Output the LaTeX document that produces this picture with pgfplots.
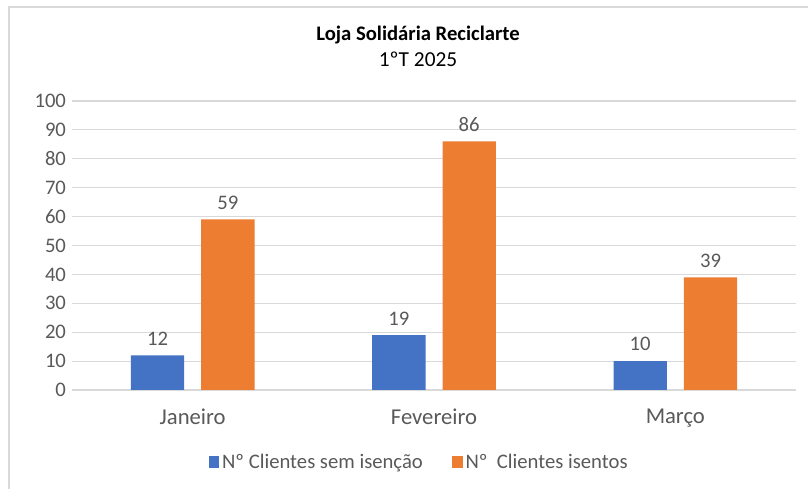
\documentclass[border=0pt]{standalone}
\usepackage{pgfplots}
\pgfplotsset{compat=1.18}
\usepackage{fontspec}
\setmainfont{Carlito}
\definecolor{cblue}{HTML}{4472C4}
\definecolor{corange}{HTML}{ED7D31}
\definecolor{txt}{HTML}{595959}
\definecolor{gridc}{HTML}{D9D9D9}
\begin{document}
\begin{tikzpicture}
% page = 808 x 489 px at 0.75pt/px; axis SW corner at px (72,390)
\path[use as bounding box] (-54pt,-74.25pt) rectangle (552pt,292.5pt);
\draw[gridc, line width=1pt] (-47.25pt,-74.25pt) -- (-47.25pt,287.25pt) -- (552pt,287.25pt);
\begin{axis}[
  at={(0,0)}, anchor=south west,
  scale only axis,
  width=543pt, height=216.75pt,
  ybar=12.75pt, bar width=40pt,
  xmin=-0.5, xmax=2.5,
  ymin=0, ymax=100, ytick distance=10,
  xtick=data,
  xticklabels={Janeiro, Fevereiro, Março},
  axis x line*=bottom,
  axis y line*=left,
  y axis line style={draw=none},
  x axis line style={draw=gridc, line width=0.8pt, -},
  xtick style={draw=none}, ytick style={draw=none},
  major tick length=0pt,
  xmajorgrids=false, ymajorgrids=true,
  grid style={draw=gridc, line width=0.8pt},
  tick label style={text=txt},
  yticklabel style={font=\fontsize{15.5}{17}\selectfont, xshift=-1pt},
  xticklabel style={font=\fontsize{17}{19}\selectfont, yshift=-11pt},
  /pgf/number format/assume math mode=true,
  nodes near coords,
  every node near coord/.append style={font=\fontsize{15.5}{17}\selectfont, text=txt, yshift=4pt},
  legend style={at={(0.48,-0.25)}, anchor=center, draw=none, fill=none,
    legend columns=2, font=\fontsize{15.5}{17}\selectfont, text=txt,
    /tikz/every even column/.append style={column sep=20pt}},
  legend image code/.code={\draw[#1, draw=none] (0pt,-4.5pt) rectangle (8pt,4.5pt);},
  title={\textbf{\fontsize{15.5}{18}\selectfont Loja Solidária Reciclarte}\\[5pt]{\fontsize{16}{18}\selectfont 1ºT 2025}},
  title style={align=center, at={(0.478,1)}, anchor=south, yshift=16pt, text=black},
]
\addplot[fill=cblue, draw=none] coordinates {(0,12) (1,19) (2,10)};
\addplot[fill=corange, draw=none] coordinates {(0,59) (1,86) (2,39)};
\legend{Nº Clientes sem isenção, Nº\ \ Clientes isentos}
\end{axis}
\end{tikzpicture}
\end{document}
